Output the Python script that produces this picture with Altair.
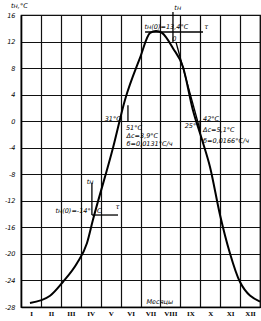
import altair as alt
import pandas as pd

# Curve (x in month units 0..12, y in °C)
curve_x = [0.45, 1.46, 2.11, 2.81, 3.31, 3.61, 4.62, 5.22, 5.97, 6.48, 6.78, 7.08,
           7.63, 8.13, 8.63, 9.09, 9.49, 9.99, 10.49, 10.99, 12.0]
curve_y = [-27.4, -26.3, -24.2, -21.4, -18.4, -14.9, -4.0, 3.2, 9.5, 13.3, 13.6, 13.3,
           11.0, 8.2, 1.7, -2.8, -6.9, -14.1, -19.9, -24.2, -27.2]

month_labels = ["I", "II", "III", "IV", "V", "VI", "VII", "VIII", "IX", "X", "XI", "XII", ""]
y_ticks = [-28, -24, -20, -16, -12, -8, -4, 0, 4, 8, 12, 16]

# Annotation texts and their anchor points (data units)
ann_text = ["tн", "tн(0)=13,4°C", "τ", "0", "31°C", "51°C", "Δc=3,9°C", "б=0,0131°C/ч",
            "42°C", "Δc=5,1°C", "б=0,0166°C/ч", "tн", "C", "τ", "Месяцы", "tн,°C"]
ann_x = [7.7, 6.2, 9.2, 7.6, 4.2, 5.27, 5.3, 5.3, 9.14, 9.14, 9.14, 3.3, 3.82, 4.75, 6.3, -0.5]
ann_y = [17.0, 14.2, 14.2, 12.4, 0.35, -1.0, -2.2, -3.4, 0.35, -1.3, -3.0, -9.2, -13.5, -12.9, -27.2, 17.4]

ann2_text = ["25°", "tн(0)=-14°"]
ann2_x = [8.8, 3.5]
ann2_y = [-0.7, -13.5]

# Helper lines (data units)
seg_x = [7.63, 6.23, 7.78, 8.99, 3.56, 3.56, 5.37]
seg_x2 = [7.63, 9.14, 8.99, 8.99, 3.56, 4.87, 5.37]
seg_y = [16.45, 13.44, 11.93, 0.1, -9.3, -14.14, 2.4]
seg_y2 = [11.93, 13.44, -1.33, -1.9, -14.14, -14.14, -0.1]

curve = pd.DataFrame({"x": curve_x, "y": curve_y})
ann = pd.DataFrame({"x": ann_x, "y": ann_y, "t": ann_text})
ann2 = pd.DataFrame({"x": ann2_x, "y": ann2_y, "t": ann2_text})
segs = pd.DataFrame({"x": seg_x, "x2": seg_x2, "y": seg_y, "y2": seg_y2})

label_expr = "[" + ",".join("'%s'" % m for m in month_labels) + "][datum.value]"

xs = alt.Scale(domain=[0, 12], nice=False)
ys = alt.Scale(domain=[-28, 16], nice=False)

x_axis = alt.Axis(values=list(range(13)), tickCount=20, labelExpr=label_expr, labelOffset=10,
                  ticks=False, title=None, grid=True, gridColor="#111", gridWidth=1.2,
                  labelOverlap=False, labelFlush=False, labelBound=False,
                  domainColor="#000", domainWidth=1.5, labelFont="Liberation Serif",
                  labelFontWeight="bold", labelFontSize=7, labelPadding=2, labelColor="#000")
y_axis = alt.Axis(values=y_ticks, tickCount=20, labelExpr="'' + datum.value", ticks=False, title=None,
                  grid=True, gridColor="#111", gridWidth=1.2,
                  labelOverlap=False, labelFlush=False, labelBound=False,
                  domainColor="#000", domainWidth=1.5, labelFont="DejaVu Sans",
                  labelFontStyle="italic", labelFontSize=6.5, labelPadding=6, labelColor="#000")

line = alt.Chart(curve).mark_line(color="#000", strokeWidth=2, interpolate="monotone").encode(
    x=alt.X("x:Q", scale=xs, axis=x_axis),
    y=alt.Y("y:Q", scale=ys, axis=y_axis),
)

rules = alt.Chart(segs).mark_rule(color="#000", strokeWidth=1.3).encode(
    x=alt.X("x:Q", scale=xs), x2="x2:Q",
    y=alt.Y("y:Q", scale=ys), y2="y2:Q",
)

texts = alt.Chart(ann).mark_text(align="left", baseline="middle", fontSize=6.5,
                                 font="DejaVu Sans", fontStyle="italic", color="#000").encode(
    x=alt.X("x:Q", scale=xs), y=alt.Y("y:Q", scale=ys), text="t:N"
)
texts2 = alt.Chart(ann2).mark_text(align="right", baseline="middle", fontSize=6.5,
                                   font="DejaVu Sans", fontStyle="italic", color="#000").encode(
    x=alt.X("x:Q", scale=xs), y=alt.Y("y:Q", scale=ys), text="t:N"
)

chart = alt.layer(line, rules, texts, texts2).properties(
    width=239, height=292,
    autosize=alt.AutoSizeParams(type="none"),
    padding={"left": 21, "top": 15, "right": 1, "bottom": 14},
    background="#ffffff",
).configure_view(stroke="#000", strokeWidth=1.2)

chart.save("out.html", embed_options={"renderer": "svg", "actions": False})
